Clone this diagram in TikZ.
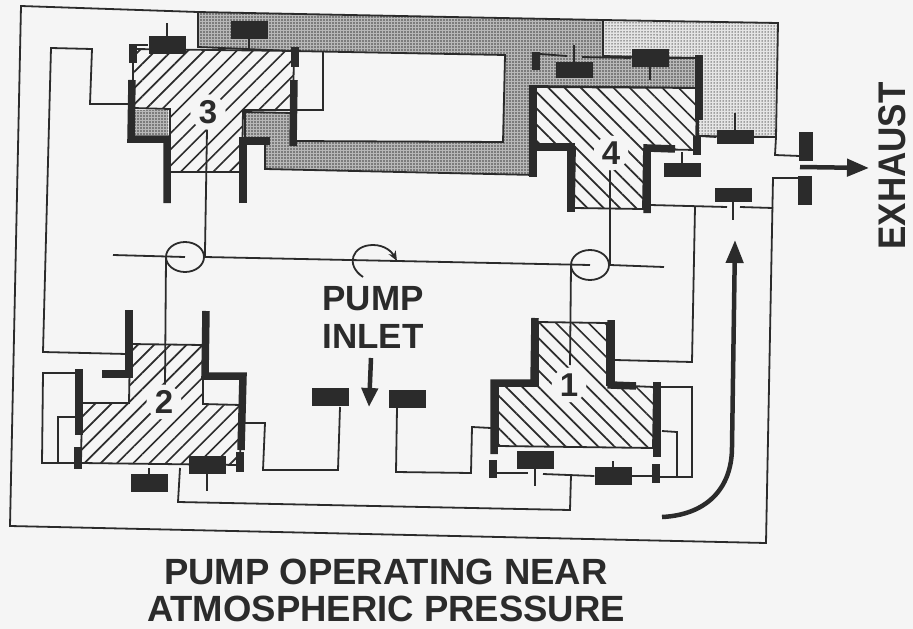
\documentclass[tikz,border=0pt]{standalone}
\usepackage{fontspec}
\setmainfont{Liberation Sans}
\usepackage{xcolor}
\usetikzlibrary{patterns.meta,arrows.meta,positioning,shapes.geometric}
\definecolor{paper}{gray}{0.96}
\definecolor{ink}{gray}{0.17}
\definecolor{darkdots}{gray}{0.72}
\definecolor{lightdots}{gray}{0.9}
\tikzset{>=Stealth,
    wire/.style={draw=ink,line width=1.8pt,line join=miter},
    wall/.style={draw=ink,line width=7.5pt,line join=miter},
    valve/.style={rectangle,fill=ink,minimum width=37pt,minimum height=18pt,inner sep=0pt},
    baffle/.style={rectangle,fill=ink,minimum width=14pt,minimum height=29pt,inner sep=0pt},
    crank/.style={draw=ink,line width=1.8pt,ellipse,minimum width=38pt,minimum height=30pt},
    bigarrow/.style={draw=ink,line width=4.5pt},
    darkstipple/.style={preaction={fill=darkdots},pattern={Dots[distance=3pt,radius=.95pt]},pattern color=black!75},
    lightstipple/.style={preaction={fill=lightdots},pattern={Dots[distance=3pt,radius=.75pt]},pattern color=black!65},
    risehatch/.style={wire,preaction={fill=paper},pattern={Lines[angle=45,distance=11.5pt,line width=1.7pt]},pattern color=ink},
    fallhatch/.style={wire,preaction={fill=paper},pattern={Lines[angle=-45,distance=11.5pt,line width=1.7pt]},pattern color=ink},
    number/.style={circle,fill=paper,inner sep=2pt,text=ink,font=\fontsize{33}{33}\selectfont\bfseries},
    caption/.style={text=ink,align=center,font=\fontsize{35}{38}\selectfont\bfseries},
            }

\begin{document}
\begin{tikzpicture}[x=1pt,y=-1pt]

    \useasboundingbox (0,0) rectangle (913,629);
    \fill[paper] (0,0) rectangle (913,629);

    % gas spaces
    \path[wire,darkstipple] (198,12) -- (603,20) -- (603,56) -- (698,58) -- (698,88) -- (536,86) -- (535,175)
        -- (265,169) -- (265,141) -- (245,140) -- (245,112) -- (293,113) -- (293,141) -- (503,142) -- (505,55)
        -- (293,51) -- (198,47) -- cycle;
    \path[darkstipple] (135,110) rectangle (168,135);
    \path[wire,lightstipple] (603,20) -- (778,23) -- (776,137) -- (698,136) -- (698,58) -- (603,56) -- cycle;

    % pistons
    \path[risehatch] (133,49) -- (294,51) -- (293,110) -- (243,110) -- (242,172) -- (170,172) -- (170,109) -- (133,108) -- cycle;
    \path[risehatch] (130,344) -- (203,345) -- (203,404) -- (241,405) -- (240,465) -- (81,463) -- (82,403) -- (129,403) -- cycle;
    \path[fallhatch] (536,87) -- (697,88) -- (696,150) -- (644,149) -- (643,209) -- (574,208) -- (575,147) -- (535,147) -- cycle;
    \path[fallhatch] (538,322) -- (607,323) -- (607,385) -- (654,387) -- (653,448) -- (498,446) -- (498,385) -- (538,385) -- cycle;

    % cylinder walls
    \draw[wall] (133,44) -- (133,63);
    \draw[wall] (132,80) -- (131,139) -- (167,139) -- (167,203);
    \draw[wall] (243,203) -- (243,141) -- (270,141);
    \draw[wall] (295,47) -- (295,67);
    \draw[wall] (294,80) -- (293,146);

    \draw[wall] (129,310) -- (129,374) -- (102,374);
    \draw[wall] (206,311) -- (205,376) -- (243,376) -- (241,450);
    \draw[wall] (79,369) -- (79,435);
    \draw[wall] (78,447) -- (78,469);
    \draw[wall] (240,452) -- (240,472);

    \draw[wall] (536,52) -- (536,70);
    \draw[wall] (533,85) -- (533,177);
    \draw[wall] (535,147) -- (571,147) -- (571,212);
    \draw[wall] (647,213) -- (647,148) -- (675,149);
    \draw[wall] (699,55) -- (699,120);
    \draw[wall] (697,136) -- (697,155);

    \draw[wall] (535,318) -- (534,383) -- (494,383) -- (494,454);
    \draw[wall] (493,460) -- (493,478);
    \draw[wall] (611,320) -- (611,385) -- (636,386);
    \draw[wall] (657,382) -- (657,457);
    \draw[wall] (656,464) -- (656,483);

    % valves
    \node[valve] (v3a) at (167,45) {};
    \node[valve] (v3b) at (249,30) {};
    \node[valve] (v2a) at (149,483) {};
    \node[valve] (v2b) at (207,465) {};
    \node[valve] (v1a) at (535,460) {};
    \node[valve] (v1b) at (613,476) {};
    \node[valve,minimum height=16pt] (v4a) at (574,70) {};
    \node[valve] (v4b) at (650,58) {};
    \node[valve,minimum height=14pt] (v4c) at (735,137) {};
    \node[valve,minimum height=14pt] (v4d) at (682,170) {};
    \node[valve,minimum height=14pt] (v4e) at (733,195) {};
    \node[valve] (v5a) at (330,397) {};
    \node[valve] (v5b) at (407,399) {};

    % valve stems and the pipes
    \draw[wire] (v3a.north) -- ++(0,-13);
    \draw[wire] (v3b.south) -- ++(0,11);
    \draw[wire] (v2a.north) -- ++(0,-6);
    \draw[wire] (v2b.south) -- ++(0,17);
    \draw[wire] (v1a.south) -- ++(0,17);
    \draw[wire] (v1b.north) -- ++(0,-6);
    \draw[wire] (v4a.north) -- ++(0,-17);
    \draw[wire] (v4b.south) -- ++(0,13);
    \draw[wire] (v4c.north) -- ++(0,-17);
    \draw[wire] (v4d.north) -- ++(0,-11);
    \draw[wire] (v4e.south) -- ++(0,18);

    \draw[wire] (133,45) -- (v3a.west);
    \draw[wire] (540,54) -- (567,56);
    \draw[wire] (582,57) -- (v4b.west);
    \draw[wire] (v4b.east) -- (695,58);
    \draw[wire] (700,136) -- (v4c.west);

    \draw[wire] (198,12) -- (21,6) -- (10,526) -- (766,543) -- (773,178) -- (800,178);
    \draw[wire] (v4c.east) -- (776,137) -- (775,155) -- (800,156);
    \draw[wire] (650,205) -- (727,207);
    \draw[wire] (740,207) -- (773,208);
    \draw[wire] (695,207) -- (692,362) -- (615,360);

    \draw[wire] (128,104) -- (90,104) -- (92,49) -- (51,48) -- (43,352) -- (127,354);
    \draw[wire] (296,110) -- (323,110) -- (323,52);
    \draw[wire] (76,373) -- (43,373) -- (42,463) -- (75,463);
    \draw[wire] (75,417) -- (58,417) -- (58,463);
    \draw[wire] (244,423) -- (265,423) -- (263,470) -- (338,470) -- (340,407);
    \draw[wire] (397,408) -- (396,472) -- (471,473) -- (472,427) -- (491,428);
    \draw[wire] (180,468) -- (178,502) -- (570,510) -- (571,475);
    \draw[wire] (497,473) -- (528,473);
    \draw[wire] (543,474) -- (v1b.west);
    \draw[wire] (v1b.east) -- (653,476);
    \draw[wire] (660,477) -- (692,477) -- (692,387) -- (660,387);
    \draw[wire] (662,431) -- (677,432) -- (677,477);

    % crankshaft
    \node[crank] (crank3) at (185,257) {};
    \node[crank] (crank4) at (590,265) {};
    \draw[wire] (113,255) -- (185,257);
    \draw[wire] (crank3.east) -- (590,265);
    \draw[wire] (crank4.east) -- (664,267);
    \draw[wire] (207,130) -- (crank3.east);
    \draw[wire] (166,258) -- (165,385);
    \draw[wire] (610,170) -- (crank4.east);
    \draw[wire] (571,266) -- (570,365);
    \draw[wire,-{Stealth[length=10pt,width=8pt]}] (363,277) .. controls (345,265) and (352,245) .. (373,245) .. controls (385,245) and (392,252) .. (397,261);

    % piston numbers
    \node[number] (n3) at (208,112) {3};
    \node[number] (n2) at (164,402) {2};
    \node[number] (n4) at (611,153) {4};
    \node[number] (n1) at (569,385) {1};

    % exhaust
    \node[baffle] (baffle1) at (806,146) {};
    \node[baffle] (baffle2) at (805,190) {};
    \coordinate (exit) at (869,168);
    \draw[bigarrow,-{Triangle[length=22pt,width=17pt]}] (800,167) -- (exit);

    % the two flows in
    \draw[bigarrow,-{Triangle[length=23pt,width=17pt]}] (662,517) .. controls (705,515) and (732,490) .. (732,447) -- (735,240);
    \draw[bigarrow,-{Triangle[length=19pt,width=16pt]}] (371,358) -- (369,407);

    % labels
    \node[caption] (inlet) at (373,317) {PUMP\\INLET};
    \node[caption,rotate=90,yscale=1.1] (exhaust) at (892,166) {EXHAUST};
    \node[caption,font=\fontsize{36.5}{37}\selectfont\bfseries] (title) at (386,590) {PUMP OPERATING NEAR\\ATMOSPHERIC PRESSURE};

\end{tikzpicture}
\end{document}
